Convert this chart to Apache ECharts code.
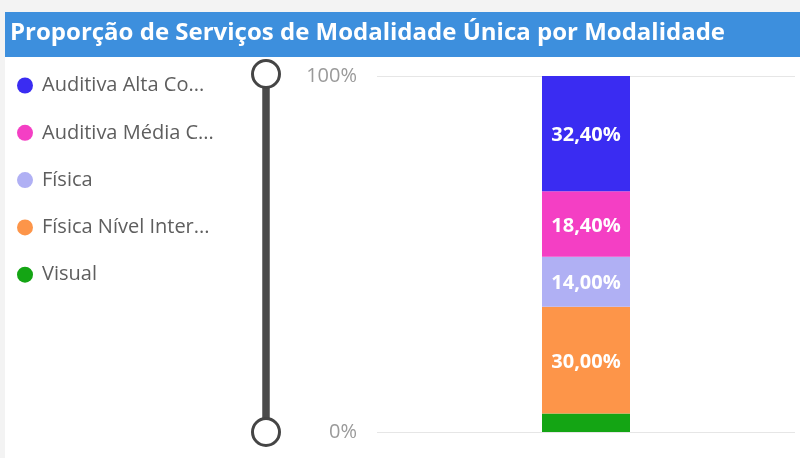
<!DOCTYPE html>
<html>
<head>
<meta charset="utf-8">
<script src="https://cdn.jsdelivr.net/npm/echarts@6/dist/echarts.min.js"></script>
<style>
html,body{margin:0;padding:0;background:#f3f3f3;}
#chart{width:800px;height:458px;}
</style>
</head>
<body>
<div id="chart"></div>
<script>
// ---- data ----
const titleText = 'Proporção de Serviços de Modalidade Única por Modalidade';
const categories = ['Total'];
const seriesNames = ['Visual', 'Física Nível Intermediário', 'Física', 'Auditiva Média Complexidade', 'Auditiva Alta Complexidade'];
const seriesValues = [[5.20], [30.00], [14.00], [18.40], [32.40]];
const seriesColors = ['#14a514', '#fd9549', '#b0b0f4', '#f43fc4', '#3a2cf2'];
const legendOrder = ['Auditiva Alta Complexidade', 'Auditiva Média Complexidade', 'Física', 'Física Nível Intermediário', 'Visual'];
const legendLabels = ['Auditiva Alta Co...', 'Auditiva Média C...', 'Física', 'Física Nível Inter...', 'Visual'];
const yTicks = [0, 100];

const chart = echarts.init(document.getElementById('chart'), null, {renderer: 'canvas'});
const fontFamily = "'Open Sans','Noto Sans',sans-serif";

const series = seriesNames.map((name, i) => ({
  name: name,
  type: 'bar',
  stack: 'total',
  barWidth: 88,
  data: seriesValues[i],
  itemStyle: {color: seriesColors[i]},
  label: {
    show: true,
    position: 'inside',
    color: '#ffffff',
    fontFamily: fontFamily,
    fontWeight: 'bold',
    fontSize: 20,
    offset: [0, 2],
    formatter: p => p.value >= 8 ? p.value.toFixed(2).replace('.', ',') + '%' : ''
  }
}));

chart.setOption({
  backgroundColor: 'transparent',
  animation: false,
  graphic: [
    {type: 'rect', left: 5, top: 57, shape: {width: 795, height: 401}, style: {fill: '#ffffff'}, z: -10},
    {type: 'rect', left: 5, top: 12, shape: {width: 795, height: 45}, style: {fill: '#3d8fdd'}, z: -5}
  ],
  title: {
    text: titleText,
    left: 10,
    top: 16,
    padding: 0,
    textStyle: {color: '#ffffff', fontFamily: fontFamily, fontWeight: 'bold', fontSize: 24, lineHeight: 34}
  },
  legend: {
    orient: 'vertical',
    left: 17,
    top: 74,
    padding: 0,
    itemGap: 24.3,
    icon: 'circle',
    itemWidth: 16,
    itemHeight: 16,
    data: legendOrder,
    selectedMode: false,
    formatter: name => legendLabels[legendOrder.indexOf(name)],
    textStyle: {
      color: '#5e5e5e',
      fontFamily: fontFamily,
      fontSize: 20,
      lineHeight: 23,
      padding: [0, 0, 0, 4]
    }
  },
  grid: {left: 377, right: 5, top: 76, bottom: 26, containLabel: false},
  xAxis: {
    type: 'category',
    data: categories,
    axisLine: {show: false},
    axisTick: {show: false},
    axisLabel: {show: false}
  },
  yAxis: {
    type: 'value',
    min: yTicks[0],
    max: yTicks[yTicks.length - 1],
    interval: 100,
    axisLine: {show: false},
    axisTick: {show: false},
    splitLine: {lineStyle: {color: '#e6e6e6', width: 1}},
    axisLabel: {
      color: '#9a9a9a',
      fontFamily: fontFamily,
      fontSize: 20,
      margin: 20,
      formatter: '{value}%'
    }
  },
  dataZoom: [{
    type: 'slider',
    yAxisIndex: 0,
    orient: 'vertical',
    left: 261,
    width: 7,
    top: 73,
    bottom: 25,
    start: 0,
    end: 100,
    zoomLock: true,
    showDetail: false,
    showDataShadow: false,
    brushSelect: false,
    moveHandleSize: 0,
    backgroundColor: '#4a4a4a',
    fillerColor: '#4a4a4a',
    borderColor: 'transparent',
    handleIcon: 'circle',
    handleSize: 27,
    handleStyle: {color: '#ffffff', borderColor: '#454545', borderWidth: 3},
    emphasis: {handleStyle: {color: '#ffffff', borderColor: '#454545', borderWidth: 3}}
  }],
  series: series
});
</script>
</body>
</html>
